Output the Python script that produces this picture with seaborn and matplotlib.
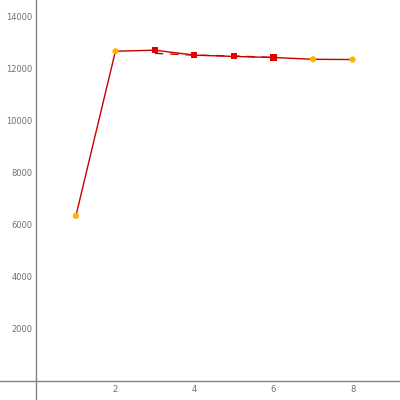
import matplotlib
matplotlib.use("Agg")
import matplotlib.pyplot as plt
import seaborn as sns
import pandas as pd

# Series values
steps = [1, 2, 3, 4, 5, 6, 7, 8]
values = [6350, 12680, 12720, 12530, 12480, 12440, 12370, 12360]
groups = ["a", "a", "b", "b", "b", "b", "a", "a"]
alt_steps = [3, 4, 5, 6]
alt_values = [12600, 12530, 12500, 12440]
x_ticks = [2, 4, 6, 8]
y_ticks = [2000, 4000, 6000, 8000, 10000, 12000, 14000]

df = pd.DataFrame({"step": steps, "value": values, "group": groups})
alt = pd.DataFrame({"step": alt_steps, "value": alt_values})

sns.set_style("white")
fig = plt.figure(figsize=(4, 4), dpi=100)
ax = fig.add_axes([0, 0, 1, 1])

sns.lineplot(data=df, x="step", y="value", ax=ax, color="#c40000", lw=1.0)
sns.lineplot(data=alt, x="step", y="value", ax=ax, color="#c40000", lw=1.0,
             linestyle=(0, (6, 5)))
sns.scatterplot(data=df[df.group == "a"], x="step", y="value", ax=ax,
                color="#ffb300", s=20, marker="o", edgecolor="none", zorder=5)
sns.scatterplot(data=df[df.group == "b"], x="step", y="value", ax=ax,
                color="#e00000", s=19, marker="s", edgecolor="none", zorder=5)

ax.set_xlim(-0.92, 9.2)
ax.set_ylim(-730, 14650)
ax.set_xticks(x_ticks)
ax.set_yticks(y_ticks)
ax.set_xlabel("")
ax.set_ylabel("")

for side in ("top", "right"):
    ax.spines[side].set_visible(False)
for side in ("left", "bottom"):
    ax.spines[side].set_position(("data", 0))
    ax.spines[side].set_color("#808080")
    ax.spines[side].set_linewidth(1.0)

ax.tick_params(axis="both", direction="inout", length=8, width=1,
               color="#808080", labelcolor="#707070", labelsize=6)
ax.tick_params(axis="x", pad=-1)
ax.tick_params(axis="y", pad=-1)

fig.savefig("out.png", dpi=100)
